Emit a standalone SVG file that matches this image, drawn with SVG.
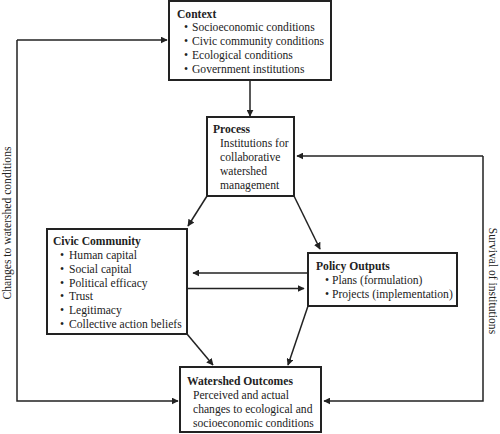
<svg xmlns="http://www.w3.org/2000/svg" width="500" height="434" viewBox="0 0 500 434">
<style>
.box{fill:#fff;stroke:#222;stroke-width:2}
.t{font-family:'Liberation Serif','Times New Roman','DejaVu Serif',serif;font-size:11.6px;fill:#222}
.b{font-weight:bold}
.c{fill:none;stroke:#222;stroke-width:1.5}
</style>
<defs>
<marker id="ah" viewBox="0 0 10 10" refX="9" refY="5" markerWidth="7" markerHeight="7" markerUnits="userSpaceOnUse" orient="auto">
<path d="M0,0 L10,5 L0,10 z" fill="#222"/>
</marker>
</defs>
<rect width="500" height="434" fill="#fff"/>
<g id="connectors">
<path class="c" d="M250,80 V116" marker-end="url(#ah)"/>
<path class="c" d="M207,196 L188,226" marker-end="url(#ah)"/>
<path class="c" d="M294,196 L320,249" marker-end="url(#ah)"/>
<path class="c" d="M308,273 H193" marker-end="url(#ah)"/>
<path class="c" d="M187,288.5 H304" marker-end="url(#ah)"/>
<path class="c" d="M187,334 L213,365" marker-end="url(#ah)"/>
<path class="c" d="M308,306 L288,365" marker-end="url(#ah)"/>
<path class="c" d="M17,40 H167" marker-end="url(#ah)"/>
<path class="c" d="M17,40 V401 H178" marker-end="url(#ah)"/>
<path class="c" d="M483,156 H297" marker-end="url(#ah)"/>
<path class="c" d="M483,156 V401 H324" marker-end="url(#ah)"/>
</g>
<text class="t" transform="translate(11,223) rotate(-90)" text-anchor="middle">Changes to watershed conditions</text>
<text class="t" transform="translate(489,281) rotate(90)" text-anchor="middle">Survival of institutions</text>
<g id="context">
<rect class="box" x="169" y="1" width="162" height="79"/>
<text class="t b" x="177" y="18">Context</text>
<text class="t" x="184" y="31">•</text><text class="t" x="192" y="31">Socioeconomic conditions</text>
<text class="t" x="184" y="45">•</text><text class="t" x="192" y="45">Civic community conditions</text>
<text class="t" x="184" y="59">•</text><text class="t" x="192" y="59">Ecological conditions</text>
<text class="t" x="184" y="73">•</text><text class="t" x="192" y="73">Government institutions</text>
</g>
<g id="process">
<rect class="box" x="207" y="117" width="87" height="79"/>
<text class="t b" x="213" y="133">Process</text>
<text class="t" x="220" y="147">Institutions for</text>
<text class="t" x="220" y="161">collaborative</text>
<text class="t" x="220" y="175">watershed</text>
<text class="t" x="220" y="189">management</text>
</g>
<g id="civic">
<rect class="box" x="47" y="229" width="140" height="105"/>
<text class="t b" x="53" y="245">Civic Community</text>
<text class="t" x="60" y="259">•</text><text class="t" x="69" y="259">Human capital</text>
<text class="t" x="60" y="273">•</text><text class="t" x="69" y="273">Social capital</text>
<text class="t" x="60" y="287">•</text><text class="t" x="69" y="287">Political efficacy</text>
<text class="t" x="60" y="300">•</text><text class="t" x="69" y="300">Trust</text>
<text class="t" x="60" y="314">•</text><text class="t" x="69" y="314">Legitimacy</text>
<text class="t" x="60" y="328">•</text><text class="t" x="69" y="328">Collective action beliefs</text>
</g>
<g id="policy">
<rect class="box" x="308" y="253" width="149" height="53"/>
<text class="t b" x="316" y="270">Policy Outputs</text>
<text class="t" x="325" y="284">•</text><text class="t" x="332" y="284">Plans (formulation)</text>
<text class="t" x="325" y="298">•</text><text class="t" x="332" y="298">Projects (implementation)</text>
</g>
<g id="watershed">
<rect class="box" x="180" y="367" width="141" height="65"/>
<text class="t b" x="187" y="385">Watershed Outcomes</text>
<text class="t" x="193" y="399">Perceived and actual</text>
<text class="t" x="193" y="413">changes to ecological and</text>
<text class="t" x="193" y="427">socioeconomic conditions</text>
</g>
</svg>
